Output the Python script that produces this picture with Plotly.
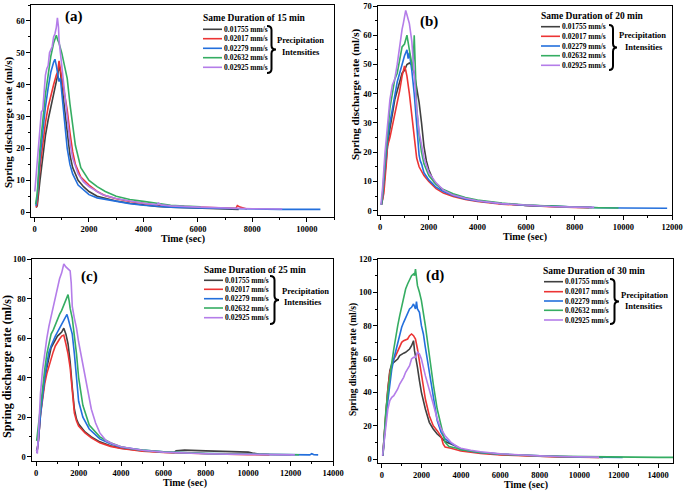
import plotly.graph_objects as go

W, H = 685, 492
FONT = "Liberation Serif"

series_names = ["0.01755 mm/s", "0.02017 mm/s", "0.02279 mm/s", "0.02632 mm/s", "0.02925 mm/s"]
series_colors = ["#404040", "#ec3434", "#236fdc", "#35ad62", "#b47de9"]
panel_labels = ["(a)", "(b)", "(c)", "(d)"]
durations = ["Same Duration of 15 min", "Same Duration of 20 min",
             "Same Duration of 25 min", "Same Duration of 30 min"]

# ---------------- Panel (a): 15 min ----------------
a_black_t = [60, 100, 200, 300, 400, 500, 600, 700, 800, 850, 900, 950, 1000, 1100, 1200, 1300, 1400, 1600, 1800, 2000, 2300, 2600, 3000, 3500, 4000, 4500, 5000, 5500, 6000, 6500, 7000, 7500]
a_black_v = [1.5, 2, 10, 18, 24, 29, 33, 37, 40, 43, 46, 44, 40, 32, 24, 18, 14, 10, 8, 6.5, 5, 4.3, 3.5, 2.8, 2.2, 1.8, 1.6, 1.4, 1.3, 1.1, 1.0, 0.9]
a_red_t = [60, 100, 200, 300, 400, 500, 600, 700, 800, 850, 900, 950, 1000, 1100, 1200, 1300, 1400, 1500, 1700, 2000, 2300, 2600, 3000, 3500, 4000, 4500, 5000, 6000, 7000, 7400, 7450, 7550, 7700, 7800]
a_red_v = [1.5, 3, 14, 22, 28, 33, 37, 40, 43, 44, 47.5, 45, 43, 38, 32, 25, 19, 15, 11, 8.5, 6.5, 5.2, 4.2, 3.4, 2.7, 2.2, 1.9, 1.5, 1.3, 1.2, 2.1, 1.6, 1.2, 1.0]
a_blue_t = [50, 100, 200, 300, 400, 500, 600, 700, 750, 800, 850, 900, 950, 1000, 1100, 1200, 1300, 1400, 1600, 1800, 2000, 2300, 2600, 3000, 3500, 4000, 5000, 6000, 7000, 8000, 9000, 10500]
a_blue_v = [2, 5, 17, 26, 33, 39, 44, 47, 48, 46, 44, 41, 42, 38, 28, 20, 15, 12, 8.5, 7, 5.5, 4.5, 4, 3.3, 2.7, 2.2, 1.6, 1.3, 1.1, 1.0, 0.9, 0.9]
a_green_t = [40, 100, 200, 300, 400, 500, 600, 700, 800, 850, 900, 1000, 1100, 1200, 1300, 1400, 1500, 1700, 2000, 2300, 2600, 3000, 3500, 4000, 4500, 5000, 5500, 6000, 6100]
a_green_v = [2.5, 6, 20, 29, 37, 43, 49, 53, 55.5, 54, 53, 50, 46, 42, 34, 27, 21, 14, 10, 8, 6.5, 5, 4, 3.4, 2.7, 2.2, 1.9, 1.8, 1.7]
a_purple_t = [10, 60, 150, 200, 250, 300, 350, 400, 450, 500, 550, 600, 650, 700, 750, 800, 840, 880, 900, 950, 1000, 1100, 1200, 1300, 1400, 1600, 1800, 2000, 2500, 3000, 3500, 4000, 4500, 4550, 4650, 5000, 6000, 7000, 8000, 9100]
a_purple_v = [6.5, 12, 23, 28, 31.5, 32, 38, 43, 45, 46, 50, 51, 52, 55, 56, 58, 61, 58, 54, 50, 46, 40, 30, 22, 17, 12, 9.5, 8, 5.5, 4.3, 3.5, 2.8, 2.4, 2.9, 2.3, 2, 1.6, 1.3, 1.1, 1.0]

# ---------------- Panel (b): 20 min ----------------
b_black_t = [50, 100, 200, 300, 400, 500, 600, 700, 800, 900, 1000, 1100, 1200, 1300, 1400, 1500, 1600, 1700, 1800, 1900, 2000, 2200, 2500, 3000, 3500, 4000, 4500, 5000, 6000, 7000, 8000, 8700]
b_black_v = [2, 4, 13, 22, 28, 33, 38, 41, 44, 47, 48, 50, 50.5, 50, 47, 42, 37, 30, 22, 17, 14, 10, 7.5, 5.3, 4.2, 3.4, 2.8, 2.4, 1.8, 1.4, 1.2, 1.1]
b_red_t = [50, 150, 250, 300, 400, 500, 600, 700, 800, 900, 1000, 1050, 1100, 1200, 1300, 1400, 1500, 1600, 1800, 2000, 2300, 2600, 3000, 3500, 4000, 5000, 6000, 7000, 8000, 8600]
b_red_v = [2, 6, 16, 22, 25, 29, 32, 37, 41, 46, 49.5, 48, 46, 40, 32, 24, 18, 15, 12, 10, 7.5, 6, 4.8, 3.8, 3.1, 2.2, 1.7, 1.3, 1.1, 1.0]
b_blue_t = [50, 100, 200, 300, 400, 500, 600, 700, 800, 900, 1000, 1100, 1150, 1200, 1300, 1400, 1500, 1550, 1600, 1650, 1700, 1800, 2000, 2300, 2600, 3000, 3500, 4000, 5000, 6000, 7000, 8000, 9000, 10000, 11800]
b_blue_v = [2, 5, 15, 24, 30, 35, 40, 44, 47, 50, 53, 55, 52, 54, 48, 40, 28, 22, 19, 17, 16, 13, 10.5, 8, 6.5, 5.2, 4, 3.3, 2.4, 1.8, 1.5, 1.2, 1.0, 0.9, 0.8]
b_green_t = [50, 100, 200, 300, 400, 500, 600, 700, 800, 900, 1000, 1100, 1200, 1300, 1350, 1400, 1450, 1500, 1600, 1700, 1800, 2000, 2300, 2600, 3000, 3500, 4000, 5000, 6000, 7000, 8000, 9000, 9800]
b_green_v = [2, 6, 17, 27, 35, 40, 45, 47, 52, 56, 57, 60, 55, 50, 48, 60, 45, 35, 26, 20, 16, 12, 9, 7.2, 5.8, 4.5, 3.6, 2.6, 1.9, 1.5, 1.2, 1.0, 0.9]
b_purple_t = [30, 100, 200, 300, 400, 500, 600, 700, 800, 900, 950, 1000, 1050, 1100, 1200, 1300, 1350, 1400, 1500, 1600, 1700, 1800, 2000, 2300, 2600, 3000, 3500, 4000, 5000, 6000, 7000, 8000, 8800]
b_purple_v = [2, 8, 20, 30, 38, 43, 45, 50, 57, 62, 64, 66, 68.5, 67, 64, 58, 52, 46, 35, 27, 22, 18, 13, 9.5, 7, 5.3, 4.2, 3.4, 2.4, 1.8, 1.4, 1.2, 1.1]

# ---------------- Panel (c): 25 min ----------------
c_black_t = [30, 100, 200, 300, 400, 500, 600, 700, 800, 900, 1000, 1100, 1200, 1300, 1400, 1500, 1600, 1700, 1800, 1900, 2000, 2300, 2600, 3000, 3500, 4000, 4500, 5000, 6000, 6500, 6600, 7000, 8000, 9000, 10000, 10200, 10500, 11000, 12000]
c_black_v = [2, 8, 22, 31, 39, 45, 51, 55, 57, 59, 61, 62, 63, 65, 62, 57, 48, 35, 24, 19, 16.5, 12.5, 10, 7.5, 5.5, 4.3, 3.6, 3, 2.2, 2, 3, 3.3, 2.9, 2.6, 2.3, 1.8, 1.3, 1.1, 1.0]
c_red_t = [30, 100, 200, 300, 400, 500, 600, 700, 800, 900, 1000, 1100, 1200, 1300, 1400, 1500, 1600, 1700, 1800, 1900, 2000, 2300, 2600, 3000, 3500, 4000, 4500, 5000, 6000, 7000, 8000, 9000, 10000, 11000]
c_red_v = [2, 8, 21, 29, 37, 42, 46, 50, 53, 56, 58, 59.5, 61, 61.5, 57, 52, 45, 32, 22, 18, 15.5, 12, 9.5, 7, 5.2, 4.1, 3.4, 2.8, 2.1, 1.7, 1.4, 1.2, 1.0, 0.9]
c_blue_t = [30, 100, 200, 300, 400, 500, 600, 700, 800, 900, 1000, 1100, 1200, 1300, 1400, 1450, 1500, 1600, 1700, 1800, 1900, 2000, 2200, 2500, 3000, 3500, 4000, 4500, 5000, 6000, 7000, 8000, 9000, 10000, 11000, 12000, 12900, 13000, 13100, 13300]
c_blue_v = [2, 8, 21, 31, 40, 47, 53, 56, 59, 61, 63, 65, 67, 69, 71, 72, 70, 66, 62, 52, 38, 28, 20, 14, 9, 6.5, 4.8, 4, 3.3, 2.4, 1.9, 1.6, 1.4, 1.2, 1.1, 1.0, 0.9, 1.5, 1.0, 0.9]
c_green_t = [20, 100, 200, 300, 400, 500, 600, 700, 800, 900, 1000, 1100, 1200, 1300, 1400, 1500, 1550, 1600, 1700, 1800, 1900, 2000, 2200, 2500, 3000, 3500, 4000, 4500, 5000, 6000, 7000, 8000, 9000, 10000, 11000, 12400]
c_green_v = [8, 16, 26, 35, 44, 52, 57, 62, 64, 67, 70, 72, 74, 77, 80, 82, 79, 75, 70, 62, 52, 40, 26, 16, 10, 7, 5, 4, 3.3, 2.4, 1.9, 1.6, 1.4, 1.2, 1.1, 1.0]
c_purple_t = [10, 50, 100, 200, 300, 400, 500, 600, 700, 800, 900, 1000, 1100, 1200, 1300, 1400, 1500, 1600, 1650, 1700, 1800, 1900, 2000, 2200, 2400, 2600, 2800, 3000, 3300, 3600, 4000, 5000, 6000, 7000, 8000, 9000, 10000, 11000, 12200]
c_purple_v = [3.5, 1.5, 10, 32, 44, 53, 60, 66, 71, 76, 81, 86, 90, 93, 97.5, 96, 95, 94, 88, 76, 70, 65, 58, 46, 34, 24, 17, 12, 8, 6.5, 5, 3.2, 2.3, 1.8, 1.5, 1.3, 1.1, 1.0, 0.9]

# ---------------- Panel (d): 30 min ----------------
d_black_t = [40, 100, 200, 300, 400, 500, 600, 700, 800, 900, 1000, 1100, 1200, 1300, 1400, 1500, 1600, 1650, 1700, 1800, 1900, 2000, 2200, 2400, 2600, 2800, 3000, 3200, 3500, 3800, 4000, 4500, 5000, 6000, 7000, 8000, 9000, 10000, 11200]
d_black_v = [2, 12, 28, 42, 53, 57, 58, 59, 60, 62, 63, 63.5, 64, 65, 66, 68, 71, 65, 62, 55, 47, 40, 30, 22, 18, 15, 13, 10.5, 9, 7.5, 5.5, 4.5, 3.8, 2.7, 2.1, 1.7, 1.4, 1.2, 1.0]
d_red_t = [50, 100, 200, 300, 400, 500, 600, 700, 800, 900, 1000, 1100, 1200, 1300, 1400, 1500, 1600, 1700, 1800, 1900, 2000, 2200, 2400, 2600, 2800, 3000, 3100, 3200, 3500, 4000, 4500, 5000, 6000, 7000, 8000, 9000, 10000, 11000]
d_red_v = [2, 12, 28, 42, 52, 56, 60, 62, 65, 68, 70, 71, 71.5, 72, 74, 75, 74, 72, 66, 58, 50, 36, 26, 20, 17, 13.5, 9, 7.2, 6.5, 4.8, 4, 3.3, 2.4, 1.9, 1.5, 1.3, 1.1, 1.0]
d_blue_t = [50, 100, 200, 300, 400, 500, 600, 700, 800, 900, 1000, 1100, 1200, 1300, 1400, 1500, 1600, 1700, 1750, 1800, 1900, 2000, 2100, 2200, 2400, 2600, 2800, 3000, 3200, 3500, 3800, 4000, 4500, 5000, 6000, 7000, 8000, 9000, 10000, 11000, 12200]
d_blue_v = [2, 10, 24, 35, 45, 54, 60, 65, 70, 75, 79, 82, 85, 88, 90, 91, 93, 90, 94.5, 90, 88, 80, 75, 67, 52, 36, 23, 16, 12, 9.5, 7, 5.8, 4.6, 3.8, 2.9, 2.3, 1.8, 1.5, 1.2, 1.0, 0.9]
d_green_t = [50, 100, 200, 300, 400, 500, 600, 700, 800, 900, 1000, 1100, 1200, 1300, 1400, 1500, 1600, 1650, 1700, 1750, 1800, 1900, 2000, 2200, 2400, 2600, 2800, 3000, 3200, 3400, 3600, 3800, 4000, 4500, 5000, 6000, 7000, 8000, 9000, 10000, 11000, 12000, 13000, 14000, 14750]
d_green_v = [2.5, 14, 29, 40, 50, 58, 66, 74, 80, 86, 92, 98, 102, 105, 108, 110, 111, 110, 114, 108, 104, 100, 95, 80, 62, 45, 30, 20, 10, 7.5, 7, 6.5, 5.5, 4.6, 3.9, 2.9, 2.3, 1.9, 1.6, 1.4, 1.3, 1.2, 1.1, 1.0, 1.0]
d_purple_t = [30, 100, 200, 300, 400, 500, 600, 700, 800, 900, 1000, 1100, 1200, 1300, 1400, 1500, 1600, 1700, 1800, 1900, 2000, 2200, 2400, 2600, 2800, 3000, 3200, 3500, 3800, 4000, 4500, 5000, 6000, 7000, 8000, 9000, 10000, 11000]
d_purple_v = [2, 10, 22, 30, 35, 37, 38, 40, 42, 45, 47, 49, 52, 54, 56, 60, 61, 61, 64, 63, 60, 50, 42, 33, 24, 18, 14, 10, 7.5, 6.5, 5.2, 4.3, 3.1, 2.4, 1.9, 1.5, 1.3, 1.1]

panels = [
    [(a_black_t, a_black_v), (a_red_t, a_red_v), (a_blue_t, a_blue_v), (a_green_t, a_green_v), (a_purple_t, a_purple_v)],
    [(b_black_t, b_black_v), (b_red_t, b_red_v), (b_blue_t, b_blue_v), (b_green_t, b_green_v), (b_purple_t, b_purple_v)],
    [(c_black_t, c_black_v), (c_red_t, c_red_v), (c_blue_t, c_blue_v), (c_green_t, c_green_v), (c_purple_t, c_purple_v)],
    [(d_black_t, d_black_v), (d_red_t, d_red_v), (d_blue_t, d_blue_v), (d_green_t, d_green_v), (d_purple_t, d_purple_v)],
]

x_ranges = [[-130, 11000], [-90, 12000], [-200, 14000], [-200, 14750]]
y_ranges = [[-1.5, 65], [-1.5, 70], [-2.2, 100], [-2.4, 120]]
y_dticks = [10, 10, 20, 20]
x_tickvals = [[0, 2000, 4000, 6000, 8000, 10000],
              [0, 2000, 4000, 6000, 8000, 10000, 12000],
              [0, 2000, 4000, 6000, 8000, 10000, 12000, 14000],
              [0, 2000, 4000, 6000, 8000, 10000, 12000, 14000]]

# plot-area boxes in pixels: left, right, top, bottom
boxes = [(31, 334, 5, 217), (378, 672, 6, 215), (32, 333, 259, 461), (378, 673, 259, 463)]

def px(x):
    return x / W

def py(y):
    return 1 - y / H

fig = go.Figure()
annotations = []
shapes = []

for i in range(4):
    xa = "x" if i == 0 else f"x{i+1}"
    ya = "y" if i == 0 else f"y{i+1}"
    for k, (t, v) in enumerate(panels[i]):
        fig.add_trace(go.Scatter(x=t, y=v, mode="lines", name=series_names[k],
                                 line=dict(color=series_colors[k], width=1.6),
                                 xaxis=xa, yaxis=ya, showlegend=False))
    l, r, tp, bt = boxes[i]
    axis_common = dict(showline=True, linecolor="black", linewidth=1.2, mirror=True,
                       ticks="outside", ticklen=3.5, tickwidth=1.1, tickcolor="black",
                       showgrid=False, zeroline=False, automargin=False,
                       tickformat="d",
                       tickfont=dict(family=FONT, size=8.5, color="black", weight="bold"))
    xkey = "xaxis" if i == 0 else f"xaxis{i+1}"
    ykey = "yaxis" if i == 0 else f"yaxis{i+1}"
    fig.update_layout(**{
        xkey: dict(domain=[px(l), px(r)], range=x_ranges[i], anchor=ya,
                   tickmode="array", tickvals=x_tickvals[i],
                   minor=dict(dtick=1000, tick0=0, ticks="outside", ticklen=2, tickcolor="black"),
                   **axis_common),
        ykey: dict(domain=[py(bt), py(tp)], range=y_ranges[i], anchor=xa,
                   dtick=y_dticks[i], tick0=0,
                   minor=dict(dtick=y_dticks[i] / 2, tick0=0, ticks="outside", ticklen=2, tickcolor="black"),
                   **axis_common),
    })

# axis titles
x_title_pos = [(183, 239), (525, 237), (185, 483), (526, 485)]
y_title_pos = [(8, 123), (355, 95), (7, 367), (353, 359)]
y_title_sizes = [11, 11, 12, 9.5]
for (x, y) in x_title_pos:
    annotations.append(dict(text="Time (sec)", x=px(x), y=py(y), xref="paper", yref="paper",
                            showarrow=False, xanchor="center", yanchor="middle",
                            font=dict(family=FONT, size=10, color="black", weight="bold")))
for (x, y), s in zip(y_title_pos, y_title_sizes):
    annotations.append(dict(text="Spring discharge rate (ml/s)", x=px(x), y=py(y), xref="paper", yref="paper",
                            showarrow=False, xanchor="center", yanchor="middle", textangle=-90,
                            font=dict(family=FONT, size=s, color="black", weight="bold")))

# panel labels
label_pos = [(74, 17), (429, 22), (89, 276), (435, 275)]
for lab, (x, y) in zip(panel_labels, label_pos):
    annotations.append(dict(text=lab, x=px(x), y=py(y), xref="paper", yref="paper",
                            showarrow=False, xanchor="center", yanchor="middle",
                            font=dict(family=FONT, size=15, color="black", weight="bold")))

# manual legends: title center, line x0/x1, entry ys, brace box, precip text centers
legends = [
    dict(title=(254, 18), lx=(203, 222), ys=[29.3, 38.7, 48.3, 57.7, 67.3], brace=(267, 276, 26, 73), p1=(300, 40), p2=(301, 52)),
    dict(title=(592, 16), lx=(541, 560), ys=[26.7, 36.3, 46, 55.7, 65.3], brace=(609, 617, 25, 70), p1=(642, 35), p2=(644, 47)),
    dict(title=(255, 270), lx=(204, 223), ys=[280.3, 289.3, 298.7, 308, 317.7], brace=(270, 279, 276, 324), p1=(305, 291), p2=(303, 302)),
    dict(title=(594, 271), lx=(544, 563), ys=[281.7, 291.7, 301, 310.3, 320], brace=(610, 619, 279, 324), p1=(644, 295), p2=(644, 306)),
]
for i, lg in enumerate(legends):
    annotations.append(dict(text=durations[i], x=px(lg["title"][0]), y=py(lg["title"][1]),
                            xref="paper", yref="paper", showarrow=False, xanchor="center", yanchor="middle",
                            font=dict(family=FONT, size=9.5, color="black", weight="bold")))
    for k, yy in enumerate(lg["ys"]):
        shapes.append(dict(type="line", xref="paper", yref="paper",
                           x0=px(lg["lx"][0]), x1=px(lg["lx"][1]), y0=py(yy), y1=py(yy),
                           line=dict(color=series_colors[k], width=1.6)))
        annotations.append(dict(text=series_names[k], x=px(lg["lx"][1]), y=py(yy),
                                xref="paper", yref="paper", showarrow=False, xanchor="left", yanchor="middle",
                                font=dict(family=FONT, size=7.5, color="black", weight="bold")))
    bl, br, btp, bbt = lg["brace"]
    bm = (btp + bbt) / 2
    xc = (bl + br) / 2
    h = 4
    path = (f"M {px(bl)},{py(btp)} Q {px(xc)},{py(btp)} {px(xc)},{py(btp + h)} "
            f"L {px(xc)},{py(bm - h)} Q {px(xc)},{py(bm)} {px(br)},{py(bm)} "
            f"Q {px(xc)},{py(bm)} {px(xc)},{py(bm + h)} "
            f"L {px(xc)},{py(bbt - h)} Q {px(xc)},{py(bbt)} {px(bl)},{py(bbt)}")
    shapes.append(dict(type="path", xref="paper", yref="paper", path=path,
                       line=dict(color="black", width=2)))
    for txt, pos in (("Precipitation", lg["p1"]), ("Intensities", lg["p2"])):
        annotations.append(dict(text=txt, x=px(pos[0]), y=py(pos[1]), xref="paper", yref="paper",
                                showarrow=False, xanchor="center", yanchor="middle",
                                font=dict(family=FONT, size=8.5, color="black", weight="bold")))

fig.update_layout(width=W, height=H, margin=dict(l=0, r=0, t=0, b=0),
                  paper_bgcolor="white", plot_bgcolor="white",
                  annotations=annotations, shapes=shapes, showlegend=False)

fig.write_html("out.html", config={"displayModeBar": False},
               post_script="document.body.style.margin='0';document.body.style.overflow='hidden';")
